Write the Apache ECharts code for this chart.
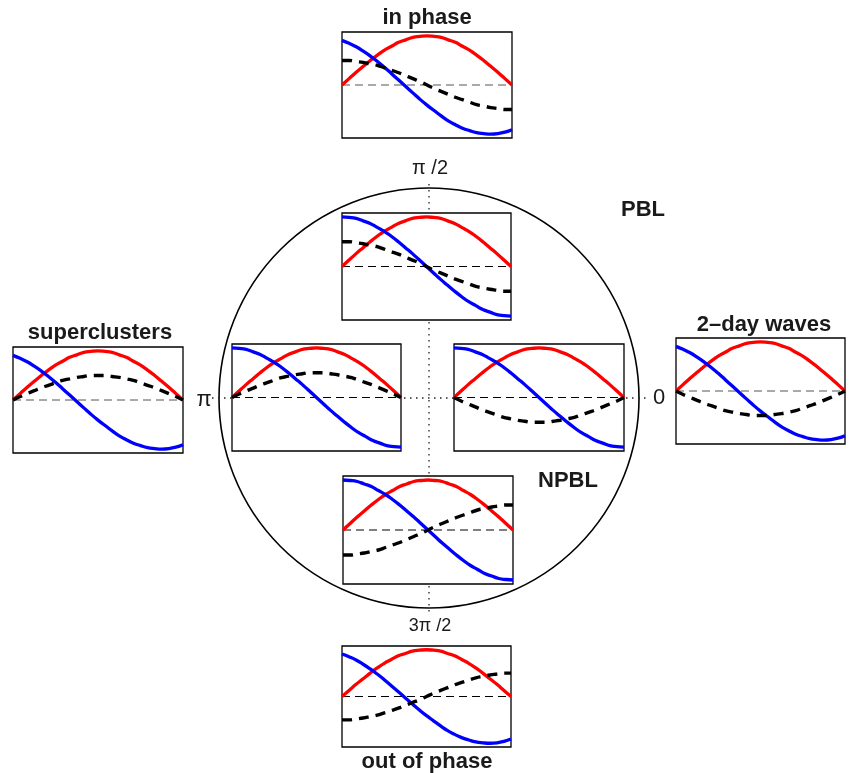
<!DOCTYPE html>
<html>
<head>
<meta charset="utf-8">
<script src="https://cdn.jsdelivr.net/npm/echarts@6/dist/echarts.min.js"></script>
<style>
html,body{margin:0;padding:0;background:#fff;}
#chart{width:849px;height:773px;}
</style>
</head>
<body>
<div id="chart"></div>
<script>
// phase (degrees) along each small panel
var phaseX = [0, 7.5, 15, 22.5, 30, 37.5, 45, 52.5, 60, 67.5, 75, 82.5, 90,
  97.5, 105, 112.5, 120, 127.5, 135, 142.5, 150, 157.5, 165, 172.5, 180];
// red curve (same in every panel)
var redWave = [0, 0.13, 0.26, 0.38, 0.5, 0.61, 0.71, 0.79, 0.87, 0.92, 0.97, 0.99, 1,
  0.99, 0.97, 0.92, 0.87, 0.79, 0.71, 0.61, 0.5, 0.38, 0.26, 0.13, 0];
// blue curve, inner panels
var blueInner = [1, 0.99, 0.97, 0.92, 0.87, 0.79, 0.71, 0.61, 0.5, 0.38, 0.26, 0.13, 0,
  -0.13, -0.26, -0.38, -0.5, -0.61, -0.71, -0.79, -0.87, -0.92, -0.97, -0.99, -1];
// blue curve, outer panels (slightly shifted)
var blueOuter = [0.91, 0.85, 0.78, 0.69, 0.59, 0.48, 0.36, 0.23, 0.1, -0.03, -0.16, -0.29, -0.41,
  -0.52, -0.63, -0.73, -0.81, -0.88, -0.93, -0.97, -0.99, -1, -0.99, -0.96, -0.91];
// black dashed curves
var dashInPhase = [0.5, 0.5, 0.48, 0.46, 0.43, 0.4, 0.35, 0.3, 0.25, 0.19, 0.13, 0.07, 0,
  -0.07, -0.13, -0.19, -0.25, -0.3, -0.35, -0.4, -0.43, -0.46, -0.48, -0.5, -0.5];
var dashOutPhase = [-0.5, -0.5, -0.48, -0.46, -0.43, -0.4, -0.35, -0.3, -0.25, -0.19, -0.13, -0.07, 0,
  0.07, 0.13, 0.19, 0.25, 0.3, 0.35, 0.4, 0.43, 0.46, 0.48, 0.5, 0.5];
var dashSuper = [0, 0.07, 0.13, 0.19, 0.25, 0.3, 0.35, 0.4, 0.43, 0.46, 0.48, 0.5, 0.5,
  0.5, 0.48, 0.46, 0.43, 0.4, 0.35, 0.3, 0.25, 0.19, 0.13, 0.07, 0];
var dashTwoDay = [0, -0.07, -0.13, -0.19, -0.25, -0.3, -0.35, -0.4, -0.43, -0.46, -0.48, -0.5, -0.5,
  -0.5, -0.48, -0.46, -0.43, -0.4, -0.35, -0.3, -0.25, -0.19, -0.13, -0.07, 0];
var zeroLine = [0, 0];
var zeroX = [0, 180];

// labels
var panelTitles = ['in phase', 'superclusters', '2\u2013day waves', 'out of phase'];
var axisLabels = ['\u03c0 /2', '\u03c0', '0', '3\u03c0 /2'];
var regionLabels = ['PBL', 'NPBL'];

// panels: [left, top, width, height], blue, dashed, zero-line color
var panels = [
  {box: [342, 32, 170, 106], blue: blueOuter, dash: dashInPhase, zc: '#555'},
  {box: [342, 213, 169, 107], blue: blueInner, dash: dashInPhase, zc: '#000'},
  {box: [13, 347, 170, 106], blue: blueOuter, dash: dashSuper, zc: '#555'},
  {box: [232, 344, 169, 107], blue: blueInner, dash: dashSuper, zc: '#000'},
  {box: [454, 344, 170, 107], blue: blueInner, dash: dashTwoDay, zc: '#000'},
  {box: [676, 338, 169, 106], blue: blueOuter, dash: dashTwoDay, zc: '#555'},
  {box: [343, 476, 170, 108], blue: blueInner, dash: dashOutPhase, zc: '#000'},
  {box: [342, 646, 169, 101], blue: blueOuter, dash: dashOutPhase, zc: '#000'}
];

function pairs(xs, vals) {
  return xs.map(function (x, i) { return [x, vals[i]]; });
}

var grids = [], xAxes = [], yAxes = [], series = [];
panels.forEach(function (p, i) {
  grids.push({
    left: p.box[0], top: p.box[1], width: p.box[2], height: p.box[3],
    show: true, backgroundColor: '#fff', borderColor: '#000', borderWidth: 1.3, z: 1
  });
  xAxes.push({type: 'value', gridIndex: i, min: 0, max: 180, show: false});
  yAxes.push({type: 'value', gridIndex: i, min: -1.08, max: 1.08, show: false});
  var common = {xAxisIndex: i, yAxisIndex: i, type: 'line', showSymbol: false, smooth: true, animation: false, silent: true};
  series.push(Object.assign({}, common, {data: pairs(zeroX, zeroLine), smooth: false, lineStyle: {color: p.zc, width: 1, type: [8, 5]}, z: 2}));
  series.push(Object.assign({}, common, {data: pairs(phaseX, redWave), lineStyle: {color: '#ff0000', width: 3.3}, z: 3}));
  series.push(Object.assign({}, common, {data: pairs(phaseX, p.blue), lineStyle: {color: '#0000ff', width: 3.3}, z: 4}));
  series.push(Object.assign({}, common, {data: pairs(phaseX, p.dash), lineStyle: {color: '#000', width: 3.4, type: [10, 7]}, z: 5}));
});

var boldFont = 'bold 22px "Liberation Sans", Arial, sans-serif';
function txt(str, x, y, font) {
  return {type: 'text', x: x, y: y, z: 10,
    style: {text: str, font: font, fill: '#1a1a1a', align: 'center', verticalAlign: 'middle'}};
}

var graphics = [
  {type: 'circle', shape: {cx: 429, cy: 398, r: 210}, z: 0,
    style: {fill: 'none', stroke: '#000', lineWidth: 1.6}},
  {type: 'line', shape: {x1: 429, y1: 184, x2: 429, y2: 612}, z: 0,
    style: {stroke: '#222', lineWidth: 1.3, lineDash: [1.5, 4.5]}},
  {type: 'line', shape: {x1: 212, y1: 398, x2: 646, y2: 398}, z: 0,
    style: {stroke: '#222', lineWidth: 1.3, lineDash: [1.5, 4.5]}},
  txt(panelTitles[0], 427, 18, boldFont),
  txt(panelTitles[1], 100, 333, boldFont),
  txt(panelTitles[2], 764, 325, boldFont),
  txt(panelTitles[3], 427, 762, boldFont),
  txt(axisLabels[0], 430, 168, '20px "Liberation Sans", Arial, sans-serif'),
  txt(axisLabels[1], 204, 400, '22px "Liberation Sans", Arial, sans-serif'),
  txt(axisLabels[2], 659, 398, '22px "Liberation Sans", Arial, sans-serif'),
  txt(axisLabels[3], 430, 626, '18px "Liberation Sans", Arial, sans-serif'),
  txt(regionLabels[0], 643, 210, boldFont),
  txt(regionLabels[1], 568, 481, boldFont)
];

var chart = echarts.init(document.getElementById('chart'), null, {renderer: 'canvas'});
chart.setOption({
  animation: false,
  backgroundColor: '#fff',
  grid: grids,
  xAxis: xAxes,
  yAxis: yAxes,
  series: series,
  graphic: {elements: graphics}
});
</script>
</body>
</html>
